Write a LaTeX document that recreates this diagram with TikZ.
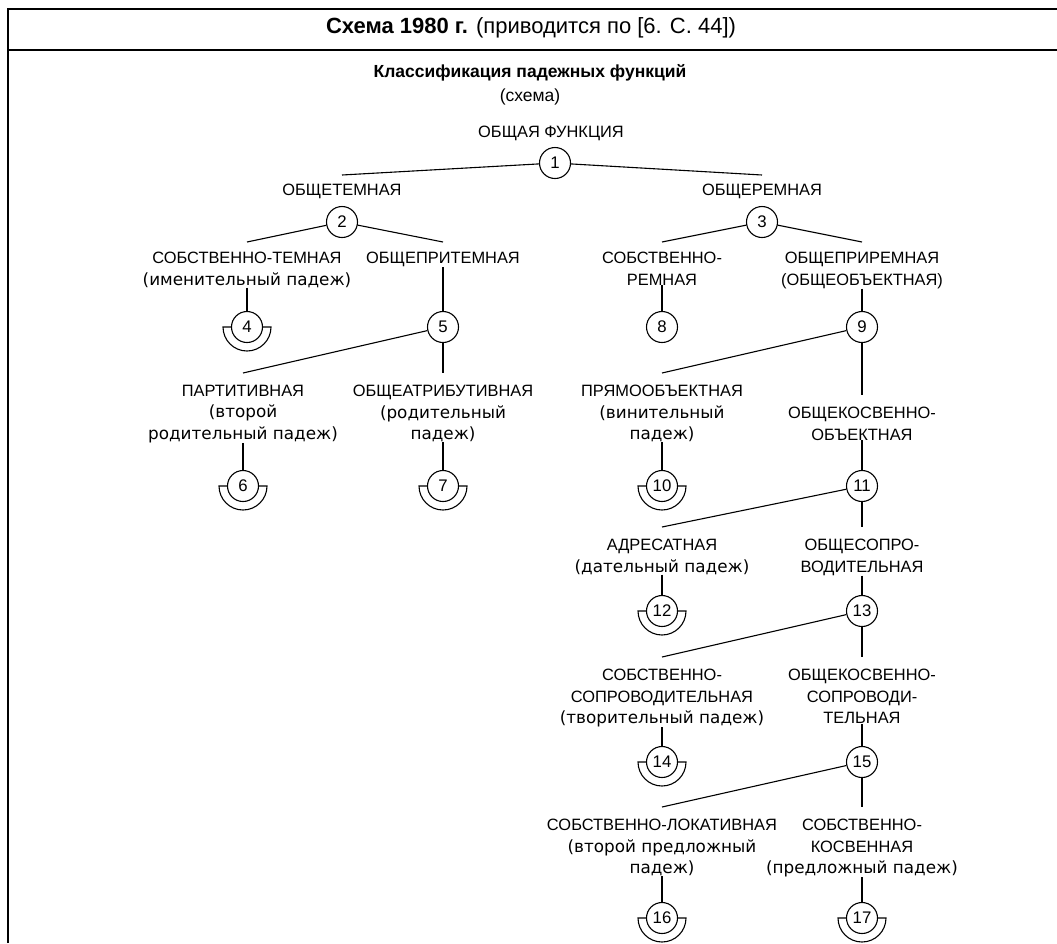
\documentclass[tikz,border=0pt]{standalone}
\usepackage{fontspec}
\setmainfont{Liberation Sans}
\newfontfamily\lcfont{DejaVu Sans}
\usetikzlibrary{calc}

\begin{document}
\begin{tikzpicture}
	[x=1pt,y=-1pt,every node/.style={inner sep=0pt},
	 num/.style={circle,draw,line width=1.1pt,minimum size=31pt,font=\fontsize{16.8}{20}\selectfont},
	 txt/.style={anchor=north,align=center,font=\fontsize{16.4}{21.4}\selectfont}]
	\tikzstyle{edges} = [line width=1.1pt];
	\tikzstyle{frame} = [line width=2.4pt];
	\useasboundingbox (0,0) rectangle (1057,943);

	% frame and heading
	\draw[frame] (8,943) -- (8,9) -- (1057,9);
	\draw[frame] (8,50) -- (1057,50);
	\node (head) at (531,28) {\fontsize{22}{25}\selectfont\textbf{Схема 1980 г.} (приводится по [6. С. 44])};
	\node (title) at (530,73) {\fontsize{17.5}{21}\selectfont\textbf{Классификация падежных функций}};
	\node (sub) at (530,97) {\fontsize{17.5}{21}\selectfont(схема)};

	% labels
	\node[txt] (t1) at (551,126) {ОБЩАЯ ФУНКЦИЯ};
	\node[txt] (t2) at (342,184) {ОБЩЕТЕМНАЯ};
	\node[txt] (t3) at (762,184) {ОБЩЕРЕМНАЯ};
	\node[txt] (t4) at (247,252) {СОБСТВЕННО-ТЕМНАЯ\\{\lcfont\fontsize{16.8}{21.4}\selectfont(именительный падеж)}};
	\node[txt] (t5) at (443,252) {ОБЩЕПРИТЕМНАЯ};
	\node[txt] (t8) at (662,252) {СОБСТВЕННО-\\РЕМНАЯ};
	\node[txt] (t9) at (862,252) {ОБЩЕПРИРЕМНАЯ\\(ОБЩЕОБЪЕКТНАЯ)};
	\node[txt] (t6) at (243,385) {ПАРТИТИВНАЯ\\{\lcfont\fontsize{16.8}{21.4}\selectfont(второй}\\{\lcfont\fontsize{16.8}{21.4}\selectfont родительный падеж)}};
	\node[txt] (t7) at (443,385) {ОБЩЕАТРИБУТИВНАЯ\\{\lcfont\fontsize{16.8}{21.4}\selectfont(родительный}\\{\lcfont\fontsize{16.8}{21.4}\selectfont падеж)}};
	\node[txt] (t10) at (662,385) {ПРЯМООБЪЕКТНАЯ\\{\lcfont\fontsize{16.8}{21.4}\selectfont(винительный}\\{\lcfont\fontsize{16.8}{21.4}\selectfont падеж)}};
	\node[txt] (t11) at (862,407) {ОБЩЕКОСВЕННО-\\ОБЪЕКТНАЯ};
	\node[txt] (t12) at (662,539) {АДРЕСАТНАЯ\\{\lcfont\fontsize{16.8}{21.4}\selectfont(дательный падеж)}};
	\node[txt] (t13) at (862,539) {ОБЩЕСОПРО-\\ВОДИТЕЛЬНАЯ};
	\node[txt] (t14) at (662,669) {СОБСТВЕННО-\\СОПРОВОДИТЕЛЬНАЯ\\{\lcfont\fontsize{16.8}{21.4}\selectfont(творительный падеж)}};
	\node[txt] (t15) at (862,669) {ОБЩЕКОСВЕННО-\\СОПРОВОДИ-\\ТЕЛЬНАЯ};
	\node[txt] (t16) at (662,819) {СОБСТВЕННО-ЛОКАТИВНАЯ\\{\lcfont\fontsize{16.8}{21.4}\selectfont(второй предложный}\\{\lcfont\fontsize{16.8}{21.4}\selectfont падеж)}};
	\node[txt] (t17) at (862,819) {СОБСТВЕННО-\\КОСВЕННАЯ\\{\lcfont\fontsize{16.8}{21.4}\selectfont(предложный падеж)}};

	% circles
	\node[num] (n1) at (555,163) {1};
	\node[num] (n2) at (342,222) {2};
	\node[num] (n3) at (762,222) {3};
	\node[num] (n4) at (247,327) {4};
	\node[num] (n5) at (443,327) {5};
	\node[num] (n8) at (662,327) {8};
	\node[num] (n9) at (862,327) {9};
	\node[num] (n6) at (243,486) {6};
	\node[num] (n7) at (443,486) {7};
	\node[num] (n10) at (662,486) {10};
	\node[num] (n11) at (862,486) {11};
	\node[num] (n12) at (662,611) {12};
	\node[num] (n13) at (862,611) {13};
	\node[num] (n14) at (662,762) {14};
	\node[num] (n15) at (862,762) {15};
	\node[num] (n16) at (662,918) {16};
	\node[num] (n17) at (862,918) {17};

	\draw[edges] (n1) -- ([yshift=9pt]t2.north);
	\draw[edges] (n1) -- ([yshift=9pt]t3.north);
	\draw[edges] (n2) -- ([yshift=10pt]t4.north);
	\draw[edges] (n2) -- ([yshift=10pt]t5.north);
	\draw[edges] (n3) -- ([yshift=10pt]t8.north);
	\draw[edges] (n3) -- ([yshift=10pt]t9.north);
	\draw[edges] (n5) -- ([yshift=12pt]t6.north);
	\draw[edges] (n5) -- ([yshift=12pt]t7.north);
	\draw[edges] (n9) -- ([yshift=12pt]t10.north);
	\draw[edges] (n9) -- ([yshift=12pt]t11.north);
	\draw[edges] (n11) -- ([yshift=12pt]t12.north);
	\draw[edges] (n11) -- ([yshift=12pt]t13.north);
	\draw[edges] (n13) -- ([yshift=12pt]t14.north);
	\draw[edges] (n13) -- ([yshift=12pt]t15.north);
	\draw[edges] (n15) -- ([yshift=12pt]t16.north);
	\draw[edges] (n15) -- ([yshift=12pt]t17.north);

	\foreach \i in {4,5,8,9,6,7,10,11,12,13,14,15,16,17}
		\draw[edges] (t\i.south) -- (n\i);

	% cups under the final cases
	\foreach \c in {n4,n6,n7,n10,n12,n14,n16,n17}
		\draw[edges] ([xshift=-16pt]\c.center) -- ([xshift=-24pt]\c.center)
			arc[start angle=180,end angle=0,radius=24] -- ([xshift=16pt]\c.center);
\end{tikzpicture}
\end{document}
